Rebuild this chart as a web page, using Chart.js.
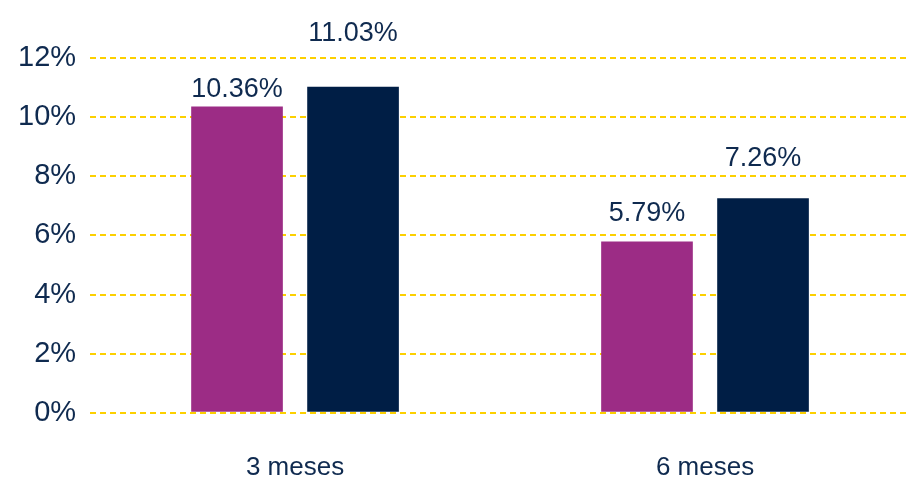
<!DOCTYPE html>
<html>
<head>
<meta charset="utf-8">
<script src="https://cdn.jsdelivr.net/npm/chart.js@4/dist/chart.umd.min.js"></script>
<style>
  html, body { margin: 0; padding: 0; background: #fff; }
  #wrap { width: 922px; height: 479px; }
</style>
</head>
<body>
<div id="wrap"><canvas id="chart"></canvas></div>
<script>
// datos
const categorias = ['3 meses', '6 meses'];
const serieA = [10.36, 5.79];
const serieB = [11.03, 7.26];
const ticksY = [0, 2, 4, 6, 8, 10, 12];

const azul = '#0f2a4f';
const fuente = '"Liberation Sans", Arial, sans-serif';

// distancia (px) del centro de cada etiqueta al tope de su barra, como en el original
const desplazamientos = [[17, 28], [53, 40]];

// etiquetas de valor encima de cada barra
const etiquetas = {
    id: 'etiquetas',
    afterDatasetsDraw(chart) {
        const ctx = chart.ctx;
        ctx.save();
        ctx.font = '27px ' + fuente;
        ctx.fillStyle = azul;
        ctx.textAlign = 'center';
        ctx.textBaseline = 'middle';
        chart.data.datasets.forEach((ds, i) => {
            chart.getDatasetMeta(i).data.forEach((bar, j) => {
                ctx.fillText(ds.data[j].toFixed(2) + '%', bar.x, bar.y - desplazamientos[i][j]);
            });
        });
        ctx.restore();
    }
};

new Chart(document.getElementById('chart'), {
    type: 'bar',
    data: {
        labels: categorias,
        datasets: [
            { data: serieA, backgroundColor: '#9c2c85', categoryPercentage: 0.566, barPercentage: 0.79 },
            { data: serieB, backgroundColor: '#001e45', categoryPercentage: 0.566, barPercentage: 0.79 }
        ]
    },
    options: {
        responsive: true,
        maintainAspectRatio: false,
        animation: false,
        layout: { padding: { top: 58, right: 12, bottom: -35, left: 4 } },
        plugins: { legend: { display: false }, tooltip: { enabled: false } },
        scales: {
            x: {
                grid: { display: false },
                border: { display: false },
                ticks: {
                    color: azul,
                    padding: 31,
                    font: { family: fuente, size: 26 }
                }
            },
            y: {
                min: 0,
                max: 12,
                afterBuildTicks: (axis) => { axis.ticks = ticksY.map(v => ({ value: v })); },
                grid: { color: '#fcd000', lineWidth: 2, drawTicks: false },
                border: { display: false, dash: [6, 4] },
                ticks: {
                    color: azul,
                    padding: 14,
                    callback: (v) => v + '%',
                    font: { family: fuente, size: 29 }
                }
            }
        }
    },
    plugins: [etiquetas]
});
</script>
</body>
</html>
